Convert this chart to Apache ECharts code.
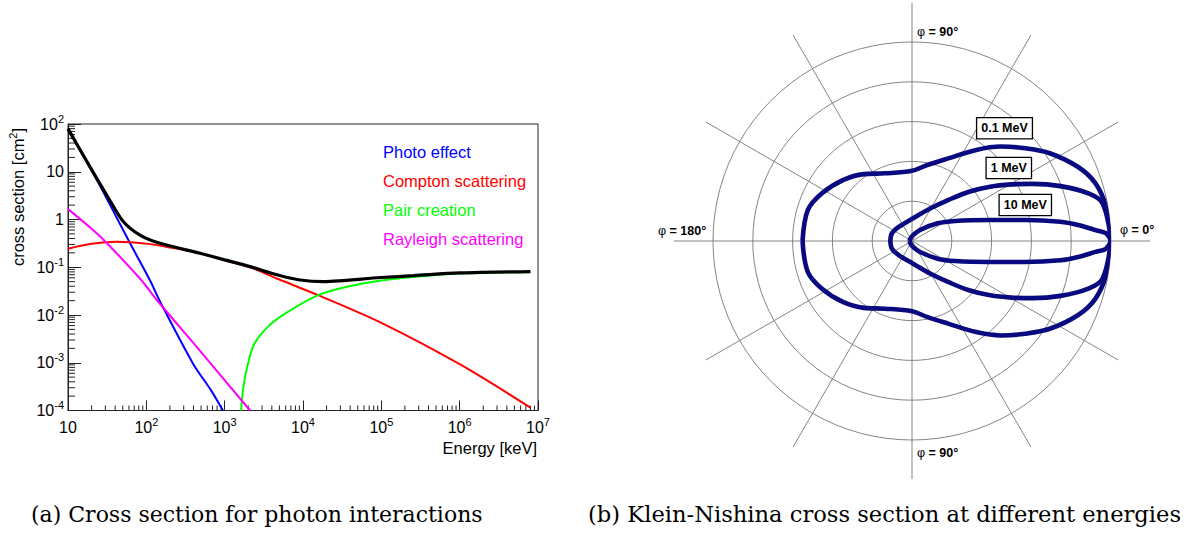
<!DOCTYPE html>
<html>
<head>
<meta charset="utf-8">
<script src="https://cdn.jsdelivr.net/npm/echarts@6/dist/echarts.min.js"></script>
<style>
  html, body { margin: 0; padding: 0; background: #ffffff; }
  #main { width: 1191px; height: 534px; }
</style>
</head>
<body>
<div id="main"></div>
<script>
// ---- (a) photon interaction cross sections: [energy keV, cross section cm^2] ----
const photoEffect = [[10, 75], [19, 12.5], [34, 2.1], [62, 0.317], [112, 0.052], [150, 0.019],
  [393, 9.7e-4], [665, 2.7e-4], [950, 1e-4]];
const comptonScattering = [[10, 0.245], [20, 0.31], [42, 0.343], [112, 0.305], [200, 0.26],
  [486, 0.195], [1000, 0.14], [2113, 0.1], [4900, 0.056], [15600, 0.026], [1.03e5, 0.0067],
  [1.04e6, 9e-4], [8e6, 1.15e-4]];
const pairCreation = [[1620, 1e-4], [1714, 2.7e-4], [1900, 7e-4], [2350, 2.35e-3], [3580, 5.7e-3],
  [6040, 0.0109], [15600, 0.026], [36300, 0.039], [1e5, 0.053], [4.2e5, 0.067], [1e6, 0.074], [8e6, 0.08]];
const rayleighScattering = [[10, 1.65], [20, 0.64], [31, 0.327], [86, 0.054], [136, 0.0206],
  [437, 2.17e-3], [2113, 1e-4]];
const totalCrossSection = [[10, 80], [19, 12.8], [34, 2.56], [51, 0.9], [83, 0.473], [150, 0.317],
  [486, 0.196], [1000, 0.143], [2113, 0.103], [4900, 0.068], [9200, 0.054], [18300, 0.05],
  [1e5, 0.061], [2.58e5, 0.0665], [1e6, 0.076], [8e6, 0.081]];

const legendNames = ['Photo effect', 'Compton scattering', 'Pair creation', 'Rayleigh scattering'];
const legendColors = ['#0000ff', '#ff0000', '#00ff00', '#ff00ff'];

// ---- (b) Klein-Nishina angular distribution: [scattering angle deg, relative cross section] ----
const kn01MeV = [[0, 1.0], [10, 0.99], [17.5, 0.966], [24, 0.914], [32.5, 0.821], [39.3, 0.736],
  [46.8, 0.651], [54.8, 0.56], [66.4, 0.453], [78.8, 0.389], [90, 0.353], [111.7, 0.366],
  [125.7, 0.414], [138.6, 0.463], [152.1, 0.512], [163.4, 0.546], [180, 0.55]];
const kn1MeV = [[0, 1.0], [11.2, 0.976], [15.1, 0.918], [20.3, 0.795], [25.4, 0.669], [29.7, 0.574],
  [34.8, 0.478], [40.8, 0.379], [48.6, 0.274], [60.4, 0.189], [87.5, 0.114], [132, 0.097],
  [159, 0.108], [180, 0.109]];
const kn10MeV = [[0, 1.0], [2.3, 0.975], [3.4, 0.923], [5.5, 0.838], [7.4, 0.752], [10.5, 0.579],
  [15, 0.407], [24.9, 0.239], [34.7, 0.156], [53.6, 0.069], [80, 0.03], [120, 0.015], [180, 0.012]];
const energyLabels = ['0.1 MeV', '1 MeV', '10 MeV'];

// tick values
const xDecades = [10, 100, 1e3, 1e4, 1e5, 1e6, 1e7];
const yDecades = [1e-4, 1e-3, 1e-2, 1e-1, 1, 10, 100];

const SANS = '"Liberation Sans", Arial, Helvetica, sans-serif';
const SERIF = '"DejaVu Serif", serif';

// minor log ticks (2..9 within each decade)
function minorTicks(decades) {
  const out = [];
  for (let i = 0; i < decades.length - 1; i++) {
    for (let m = 2; m <= 9; m++) out.push(m * decades[i]);
  }
  return out;
}
const xMinor = minorTicks(xDecades).map(v => [v, yDecades[0]]);
const yMinor = minorTicks(yDecades).map(v => [xDecades[0], v]);

function powLabel(v) {
  const n = Math.round(Math.log10(v));
  if (n === 0) return '1';
  if (n === 1) return '10';
  return '10{sup|' + n + '}';
}

const labelRich = { sup: { fontSize: 11, lineHeight: 10, verticalAlign: 'top', fontFamily: SANS, color: '#000' } };

function lobe(points, polarIndex) {
  // upper half (0..180) and lower half (360..180) drawn as two paths meeting at the cusp
  const upper = points.map(([a, r]) => [r, a]);
  const lower = points.map(([a, r]) => [r, a === 0 ? 360 : 360 - a]);
  return [upper, lower].map(d => ({
    type: 'line', coordinateSystem: 'polar', polarIndex: polarIndex,
    data: d, smooth: 0.35, showSymbol: false, symbol: 'none', silent: true,
    lineStyle: { color: '#0a0a80', width: 4.6 }, z: 5
  }));
}

const minorTickSeries = (data, dir) => ({
  type: 'custom', coordinateSystem: 'cartesian2d', xAxisIndex: 0, yAxisIndex: 0,
  data: data, silent: true, clip: false, z: 1,
  renderItem: function (params, api) {
    const p = api.coord([api.value(0), api.value(1)]);
    const shape = dir === 'x'
      ? { x1: p[0], y1: p[1], x2: p[0], y2: p[1] - 5 }
      : { x1: p[0], y1: p[1], x2: p[0] + 7, y2: p[1] };
    return { type: 'line', shape: shape, style: { stroke: '#222', lineWidth: 1 } };
  }
});

const lineSeries = (data, color, width, z) => ({
  type: 'line', data: data, smooth: 0.3, showSymbol: false, symbol: 'none', silent: true,
  lineStyle: { color: color, width: width }, z: z
});

const phiLabel = (txt, x, y) => ({
  type: 'text', x: x, y: y, silent: true,
  style: {
    text: '{p|φ}{b| = ' + txt + '}', align: 'left', verticalAlign: 'middle',
    rich: {
      p: { fontFamily: SANS, fontSize: 12.5, fontWeight: 'normal', fill: '#000' },
      b: { fontFamily: SANS, fontSize: 12.5, fontWeight: 'bold', fill: '#000' }
    }
  }
});

const boxLabel = (txt, x, y) => ({
  type: 'text', x: x, y: y, silent: true, z: 10,
  style: {
    text: txt, align: 'center', verticalAlign: 'middle',
    font: 'bold 12.5px ' + SANS, fill: '#000',
    backgroundColor: '#ffffff', borderColor: '#000', borderWidth: 1.3, padding: [4, 4, 3, 4]
  }
});

const chart = echarts.init(document.getElementById('main'), null, { renderer: 'svg' });

chart.setOption({
  backgroundColor: '#ffffff',
  animation: false,
  grid: {
    left: 68, top: 124, width: 470, height: 286.5,
    show: true, borderColor: '#222', borderWidth: 1, backgroundColor: 'transparent',
    containLabel: false, outerBoundsMode: 'none'
  },
  xAxis: {
    type: 'log', logBase: 10, min: xDecades[0], max: xDecades[xDecades.length - 1], splitNumber: 6,
    axisLine: { show: true, lineStyle: { color: '#222', width: 1 } },
    axisTick: { show: true, inside: true, length: 10, lineStyle: { color: '#222' } },
    splitLine: { show: false },
    axisLabel: {
      formatter: powLabel, color: '#000', fontFamily: SANS, fontSize: 16, lineHeight: 22,
      margin: 6, showMinLabel: true, showMaxLabel: true, rich: labelRich
    }
  },
  yAxis: {
    type: 'log', logBase: 10, min: yDecades[0], max: yDecades[yDecades.length - 1], splitNumber: 6,
    axisLine: { show: true, lineStyle: { color: '#222', width: 1 } },
    axisTick: { show: true, inside: true, length: 13, lineStyle: { color: '#222' } },
    splitLine: { show: false },
    axisLabel: {
      formatter: powLabel, color: '#000', fontFamily: SANS, fontSize: 16, lineHeight: 22,
      margin: 4, showMinLabel: true, showMaxLabel: true, rich: labelRich
    }
  },
  polar: [
    { center: [912, 241], radius: 199 },   // rings + curves
    { center: [912, 241], radius: 238 }    // spokes
  ],
  angleAxis: [
    {
      polarIndex: 0, type: 'value', min: 0, max: 360, interval: 30, startAngle: 0, clockwise: false,
      axisLine: { show: false }, axisTick: { show: false }, axisLabel: { show: false }, splitLine: { show: false }
    },
    {
      polarIndex: 1, type: 'value', min: 0, max: 360, interval: 30, startAngle: 0, clockwise: false,
      axisLine: { show: false }, axisTick: { show: false }, axisLabel: { show: false },
      splitLine: { show: true, lineStyle: { color: '#777', width: 0.9 } }
    }
  ],
  radiusAxis: [
    {
      polarIndex: 0, type: 'value', min: 0, max: 1, interval: 0.2,
      axisLine: { show: false }, axisTick: { show: false }, axisLabel: { show: false },
      splitLine: { show: true, lineStyle: { color: '#777', width: 0.9 } }
    },
    {
      polarIndex: 1, type: 'value', min: 0, max: 1.2, interval: 0.2,
      axisLine: { show: false }, axisTick: { show: false }, axisLabel: { show: false },
      splitLine: { show: false }
    }
  ],
  series: [
    minorTickSeries(xMinor, 'x'),
    minorTickSeries(yMinor, 'y'),
    lineSeries(photoEffect, legendColors[0], 2, 3),
    lineSeries(comptonScattering, legendColors[1], 2, 3),
    lineSeries(pairCreation, legendColors[2], 2, 3),
    lineSeries(rayleighScattering, legendColors[3], 2, 3),
    lineSeries(totalCrossSection, '#000000', 3.2, 4),
    ...lobe(kn01MeV, 0),
    ...lobe(kn1MeV, 0),
    ...lobe(kn10MeV, 0)
  ],
  graphic: [
    // axis titles
    {
      type: 'text', x: 18, y: 197, rotation: Math.PI / 2, silent: true,
      style: {
        text: 'cross section [cm{sup|2}]', align: 'center', verticalAlign: 'middle',
        fontFamily: SANS, fontSize: 16.5, fill: '#000', lineHeight: 22,
        rich: { sup: { fontSize: 11, lineHeight: 10, verticalAlign: 'top', fontFamily: SANS, fill: '#000' } }
      }
    },
    {
      type: 'text', x: 537, y: 448, silent: true,
      style: { text: 'Energy [keV]', align: 'right', verticalAlign: 'middle', font: '16.5px ' + SANS, fill: '#000' }
    },
    // legend entries
    ...legendNames.map((name, i) => ({
      type: 'text', x: 383, y: [152, 181, 209.5, 238.5][i], silent: true,
      style: { text: name, align: 'left', verticalAlign: 'middle', font: '16.5px ' + SANS, fill: legendColors[i] }
    })),
    // polar angle labels
    phiLabel('90°', 917, 31.5),
    phiLabel('90°', 917, 453),
    phiLabel('180°', 658, 231),
    phiLabel('0°', 1120, 230),
    // energy boxes
    boxLabel(energyLabels[0], 1004.5, 128.3),
    boxLabel(energyLabels[1], 1008.8, 168),
    boxLabel(energyLabels[2], 1025.3, 205),
    // captions
    {
      type: 'text', x: 31, y: 514, silent: true,
      style: { text: '(a) Cross section for photon interactions', align: 'left', verticalAlign: 'middle', font: '22px ' + SERIF, fill: '#000' }
    },
    {
      type: 'text', x: 588, y: 514, silent: true,
      style: { text: '(b) Klein-Nishina cross section at different energies', align: 'left', verticalAlign: 'middle', font: '22.6px ' + SERIF, fill: '#000' }
    }
  ]
});
</script>
</body>
</html>
